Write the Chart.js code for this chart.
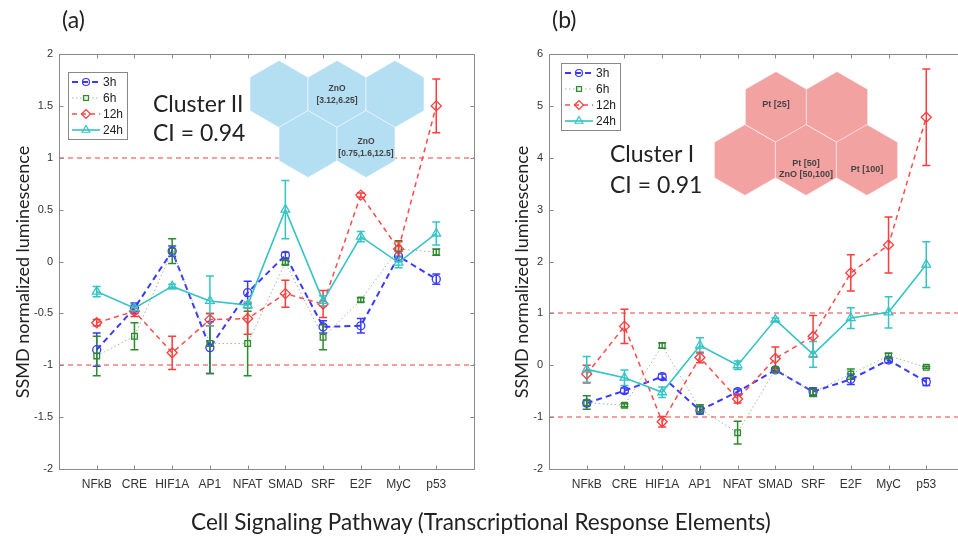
<!DOCTYPE html>
<html>
<head>
<meta charset="utf-8">
<script src="https://cdn.jsdelivr.net/npm/chart.js@4.4.0/dist/chart.umd.min.js"></script>
<style>
    body { margin: 0; width: 958px; height: 544px; overflow: hidden; background: #fff; position: relative; font-family: Lato, "Open Sans", sans-serif; color: #222; }
    canvas { position: absolute; top: 0; }
    #chartA { left: 0; }
    #chartB { left: 490px; }
    .txt { position: absolute; line-height: 1; white-space: nowrap; }
    .panel { font-size: 23px; }
    .cluster { font-size: 23px; }
    .ytitle { width: 300px; text-align: center; font-size: 18px; line-height: 18px; top: 263px; transform: rotate(-90deg); }
    #xtitle { left: 0; width: 962px; text-align: center; top: 511px; font-size: 22.5px; }
</style>
</head>
<body>
<canvas id="chartA" width="490" height="544"></canvas>
<canvas id="chartB" width="490" height="544"></canvas>

<div class="txt panel" style="left:62px; top:8px;">(a)</div>
<div class="txt panel" style="left:552px; top:8px;">(b)</div>
<div class="txt cluster" style="left:153px; top:92px;">Cluster II</div>
<div class="txt cluster" style="left:153px; top:121px;">CI = 0.94</div>
<div class="txt cluster" style="left:610px; top:142px;">Cluster I</div>
<div class="txt cluster" style="left:610px; top:173px;">CI = 0.91</div>
<div class="txt ytitle" style="left:-128px;">SSMD normalized luminescence</div>
<div class="txt ytitle" style="left:371px;">SSMD normalized luminescence</div>
<div class="txt" id="xtitle">Cell Signaling Pathway (Transcriptional Response Elements)</div>

<script>
// categories and series
var pathways = ['NFkB', 'CRE', 'HIF1A', 'AP1', 'NFAT', 'SMAD', 'SRF', 'E2F', 'MyC', 'p53'];
var timePoints = ['3h', '6h', '12h', '24h'];
var thresholds = [1, -1];

// panel (a) - Cluster II
var a3h = [-0.85, -0.45, 0.10, -0.83, -0.30, 0.06, -0.63, -0.62, 0.05, -0.17];
var a3hErr = [0.16, 0.05, 0.05, 0.25, 0.11, 0.03, 0.06, 0.07, 0.05, 0.05];
var a6h = [-0.91, -0.72, 0.10, -0.79, -0.79, -0.01, -0.73, -0.37, 0.12, 0.09];
var a6hErr = [0.19, 0.13, 0.12, 0.29, 0.31, 0.02, 0.12, 0.02, 0.08, 0.03];
var a12h = [-0.59, -0.48, -0.88, -0.56, -0.55, -0.31, -0.41, 0.64, 0.12, 1.50];
var a12hErr = [0.03, 0.05, 0.16, 0.06, 0.15, 0.13, 0.13, 0.02, 0.07, 0.26];
var a24h = [-0.29, -0.45, -0.24, -0.38, -0.42, 0.50, -0.38, 0.24, -0.01, 0.27];
var a24hErr = [0.05, 0.03, 0.02, 0.24, 0.03, 0.28, 0.05, 0.05, 0.05, 0.11];

// panel (b) - Cluster I
var b3h = [-0.73, -0.49, -0.22, -0.87, -0.51, -0.09, -0.51, -0.27, 0.10, -0.32];
var b3hErr = [0.05, 0.05, 0.05, 0.07, 0.05, 0.03, 0.07, 0.10, 0.05, 0.07];
var b6h = [-0.72, -0.77, 0.38, -0.84, -1.30, -0.08, -0.52, -0.17, 0.18, -0.04];
var b6hErr = [0.13, 0.03, 0.05, 0.08, 0.22, 0.03, 0.08, 0.10, 0.05, 0.02];
var b12h = [-0.17, 0.75, -1.09, 0.15, -0.65, 0.13, 0.56, 1.78, 2.32, 4.78];
var b12hErr = [0.17, 0.33, 0.10, 0.10, 0.08, 0.22, 0.40, 0.35, 0.54, 0.93];
var b24h = [-0.08, -0.24, -0.52, 0.38, 0.00, 0.88, 0.21, 0.91, 1.02, 1.94];
var b24hErr = [0.25, 0.15, 0.10, 0.15, 0.08, 0.03, 0.25, 0.20, 0.30, 0.44];

var styles = [
    { color: '#3a3aff', line: '#3a3aff', dash: [6, 4], width: 2, point: 'circle', r: 4 },
    { color: '#2d8a2d', line: 'rgba(120,165,120,0.75)', dash: [1.5, 2.5], width: 1, point: 'rect', r: 4 },
    { color: '#ff3b3b', line: '#ff4a4a', dash: [5, 4], width: 1.5, point: 'rectRot', r: 5 },
    { color: '#35c4c4', line: '#35c4c4', dash: [], width: 1.6, point: 'triangle', r: 5 }
];

var tickFont = { family: 'Liberation Sans', size: 12 };

function hexPath(ctx, cx, cy, s) {
    ctx.beginPath();
    for (var k = 0; k < 6; k++) {
        var ang = Math.PI / 180 * (60 * k - 90);
        var px = cx + s * Math.cos(ang), py = cy + s * Math.sin(ang);
        if (k == 0) ctx.moveTo(px, py); else ctx.lineTo(px, py);
    }
    ctx.closePath();
}

function decorPlugin(cfg) {
    return {
        id: 'decor',
        beforeDatasetsDraw: function (chart) {
            var ctx = chart.ctx, xs = chart.scales.x, ys = chart.scales.y, area = chart.chartArea;
            ctx.save();
            // +/-1 threshold lines
            ctx.strokeStyle = '#f58080';
            ctx.lineWidth = 1.4;
            ctx.setLineDash([5, 4]);
            thresholds.forEach(function (t) {
                var y = Math.round(ys.getPixelForValue(t));
                ctx.beginPath();
                ctx.moveTo(area.left, y);
                ctx.lineTo(area.right, y);
                ctx.stroke();
            });
            ctx.setLineDash([]);
            // error bars
            cfg.errs.forEach(function (err, i) {
                ctx.strokeStyle = styles[i].color;
                ctx.lineWidth = 1.5;
                cfg.values[i].forEach(function (v, j) {
                    var x = xs.getPixelForValue(j + 1);
                    var y1 = ys.getPixelForValue(v + err[j]);
                    var y2 = ys.getPixelForValue(v - err[j]);
                    ctx.beginPath();
                    ctx.moveTo(x, y1); ctx.lineTo(x, y2);
                    ctx.moveTo(x - 4, y1); ctx.lineTo(x + 4, y1);
                    ctx.moveTo(x - 4, y2); ctx.lineTo(x + 4, y2);
                    ctx.stroke();
                });
            });
            ctx.restore();
        },
        afterDatasetsDraw: function (chart) {
            var ctx = chart.ctx;
            ctx.save();
            // inset hexagons
            var hx = cfg.hex;
            hx.cells.forEach(function (c) {
                hexPath(ctx, c.x - cfg.offset, c.y, hx.s);
                ctx.fillStyle = hx.color;
                ctx.fill();
                ctx.strokeStyle = 'rgba(255,255,255,0.55)';
                ctx.lineWidth = 1;
                ctx.stroke();
            });
            ctx.fillStyle = '#444';
            ctx.font = 'bold ' + hx.font + 'px "Liberation Sans"';
            ctx.textAlign = 'center';
            ctx.textBaseline = 'middle';
            hx.cells.forEach(function (c) {
                (c.t || []).forEach(function (line, k) {
                    ctx.fillText(line, c.x - cfg.offset, c.ty + k * hx.lh);
                });
            });
            // legend
            var lg = cfg.legend;
            var bx = lg.x - cfg.offset;
            ctx.fillStyle = '#fff';
            ctx.fillRect(bx, lg.y, 59, 67);
            ctx.strokeStyle = '#888';
            ctx.lineWidth = 1;
            ctx.strokeRect(bx + 0.5, lg.y + 0.5, 59, 67);
            ctx.textAlign = 'left';
            ctx.font = '12px "Liberation Sans"';
            timePoints.forEach(function (name, k) {
                var st = styles[k];
                var y = lg.y + 10 + k * 16;
                ctx.strokeStyle = st.line;
                ctx.lineWidth = st.width;
                ctx.setLineDash(st.dash);
                ctx.beginPath();
                ctx.moveTo(bx + 4, y); ctx.lineTo(bx + 32, y);
                ctx.stroke();
                ctx.setLineDash([]);
                ctx.strokeStyle = st.color;
                ctx.lineWidth = 1.2;
                ctx.fillStyle = 'rgba(0,0,0,0)';
                Chart.helpers.drawPoint(ctx, { pointStyle: st.point, radius: st.r - 0.5, borderWidth: 1.2, rotation: 0 }, bx + 18, y);
                ctx.fillStyle = '#222';
                ctx.fillText(name, bx + 35, y + 1);
            });
            ctx.restore();
        },
        afterDraw: function (chart) {
            var ctx = chart.ctx, xs = chart.scales.x, ys = chart.scales.y, a = chart.chartArea;
            ctx.save();
            ctx.strokeStyle = '#8a8a8a';
            ctx.lineWidth = 1;
            var L = Math.round(a.left) + 0.5, R = Math.round(a.right) + 0.5;
            var T = Math.round(a.top) + 0.5, B = Math.round(a.bottom) + 0.5;
            ctx.strokeRect(L, T, R - L, B - T);
            ctx.beginPath();
            xs.ticks.forEach(function (t) {
                var x = Math.round(xs.getPixelForValue(t.value)) + 0.5;
                ctx.moveTo(x, B); ctx.lineTo(x, B - 4);
                ctx.moveTo(x, T); ctx.lineTo(x, T + 4);
            });
            ys.ticks.forEach(function (t) {
                var y = Math.round(ys.getPixelForValue(t.value)) + 0.5;
                ctx.moveTo(L, y); ctx.lineTo(L + 4, y);
                ctx.moveTo(R, y); ctx.lineTo(R - 4, y);
            });
            ctx.stroke();
            ctx.restore();
        }
    };
}

function buildPanel(id, cfg) {
    var datasets = cfg.values.map(function (vals, i) {
        var st = styles[i];
        return {
            label: timePoints[i],
            data: vals.map(function (v, j) { return { x: j + 1, y: v }; }),
            borderColor: st.line,
            borderWidth: st.width,
            borderDash: st.dash,
            pointStyle: st.point,
            pointRadius: st.r,
            pointBorderColor: st.color,
            pointBorderWidth: 1.3,
            pointBackgroundColor: 'rgba(0,0,0,0)',
            tension: 0,
            fill: false,
            order: 3 - i
        };
    });

    return new Chart(document.getElementById(id), {
        type: 'line',
        data: { datasets: datasets },
        options: {
            responsive: false,
            animation: false,
            layout: { padding: { top: 54, right: 16, left: 0, bottom: 0 } },
            plugins: { legend: { display: false }, tooltip: { enabled: false } },
            scales: {
                x: {
                    type: 'linear', min: 0, max: 11,
                    afterBuildTicks: function (s) {
                        s.ticks = pathways.map(function (p, i) { return { value: i + 1 }; });
                    },
                    afterFit: function (s) { s.height = 75; },
                    grid: { display: false, drawTicks: false },
                    border: { display: false },
                    ticks: {
                        autoSkip: false, maxRotation: 0, padding: 8, color: '#333', font: tickFont,
                        callback: function (v) { return pathways[v - 1] || ''; }
                    }
                },
                y: {
                    min: cfg.yMin, max: cfg.yMax,
                    afterFit: function (s) { s.width = 59; },
                    grid: { display: false, drawTicks: false },
                    border: { display: false },
                    ticks: {
                        stepSize: cfg.yStep, padding: 6, color: '#333', font: { family: 'Liberation Sans', size: 11 },
                        callback: function (v) { return String(Math.round(v * 10) / 10); }
                    }
                }
            }
        },
        plugins: [decorPlugin(cfg)]
    });
}

buildPanel('chartA', {
    offset: 0,
    yMin: -2, yMax: 2, yStep: 0.5,
    values: [a3h, a6h, a12h, a24h],
    errs: [a3hErr, a6hErr, a12hErr, a24hErr],
    legend: { x: 68, y: 72 },
    hex: {
        color: '#b4def2', s: 33.5, font: 8.5, lh: 12,
        cells: [
            { x: 279, y: 94 },
            { x: 337, y: 94, t: ['ZnO', '[3.12,6.25]'], ty: 89 },
            { x: 395, y: 94 },
            { x: 308, y: 144 },
            { x: 366, y: 144, t: ['ZnO', '[0.75,1.6,12.5]'], ty: 142 }
        ]
    }
});

buildPanel('chartB', {
    offset: 490,
    yMin: -2, yMax: 6, yStep: 1,
    values: [b3h, b6h, b12h, b24h],
    errs: [b3hErr, b6hErr, b12hErr, b24hErr],
    legend: { x: 561, y: 63 },
    hex: {
        color: '#f3a2a2', s: 35.4, font: 9, lh: 11,
        cells: [
            { x: 776, y: 107, t: ['Pt [25]'], ty: 105 },
            { x: 837, y: 107 },
            { x: 745, y: 160 },
            { x: 806, y: 160, t: ['Pt [50]', 'ZnO [50,100]'], ty: 164 },
            { x: 867, y: 160, t: ['Pt [100]'], ty: 170 }
        ]
    }
});
</script>
</body>
</html>
